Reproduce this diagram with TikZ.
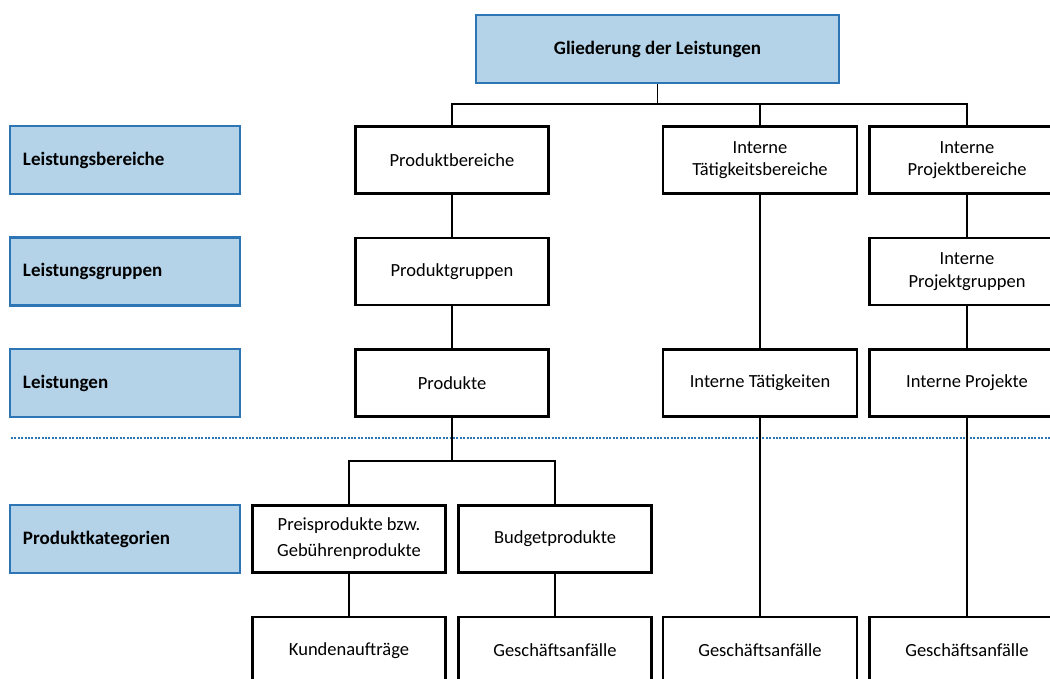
\documentclass[tikz,border=0pt]{standalone}
\usepackage{fontspec}
\setmainfont{Carlito}

\definecolor{levelfill}{RGB}{180,211,232}
\definecolor{levelline}{RGB}{46,117,182}

\begin{document}
\begin{tikzpicture}[x=1pt, y=-1pt, line width=1.8pt,
    levelbox/.style={draw=levelline, fill=levelfill, line width=2.4pt,
      minimum height=68pt, font=\bfseries\fontsize{19}{22}\selectfont},
    level/.style={levelbox, inner xsep=13pt, text width=204pt, align=left},
    unit/.style={draw, line width=2.2pt, minimum width=193pt, minimum height=67pt,
      inner sep=0pt, align=center, font=\fontsize{18.5}{22.5}\selectfont}]
   \useasboundingbox (0,0) rectangle (1050,679);
   \clip (0,0) rectangle (1050,679);

   \node[levelbox, minimum width=363pt] (top) at (657.5,49) {Gliederung der Leistungen};

   % levels on the left
   \foreach \name/\y/\txt in {bereich/160/Leistungsbereiche, gruppe/271.5/Leistungsgruppen,
       leistung/383/Leistungen, kategorie/539/Produktkategorien}
     \node[level] (lv\name) at (125,\y) {\txt};

   \draw[levelline, line width=2pt, dash pattern=on 2pt off 1.4pt] (11,438) -- (1050,438);

   % products
   \node[unit] (pbereich) at (452,160) {Produktbereiche};
   \node[unit] (pgruppe) at (452,271.5) {Produktgruppen};
   \node[unit] (produkt) at (452,383) {Produkte};
   \node[unit, font=\fontsize{18.5}{26}\selectfont] (preis) at (349,539) {Preisprodukte bzw.\\Gebührenprodukte};
   \node[unit] (budget) at (555,539) {Budgetprodukte};
   \node[unit] (kunde) at (349,650.5) {Kundenaufträge};
   \node[unit] (gfa) at (555,650.5) {Geschäftsanfälle};

   % internal activities
   \node[unit, minimum width=194pt] (tbereich) at (760,160) {Interne\\Tätigkeitsbereiche};
   \node[unit, minimum width=194pt] (taetig) at (760,383) {Interne Tätigkeiten};
   \node[unit, minimum width=194pt] (gfb) at (760,650.5) {Geschäftsanfälle};

   % internal projects
   \node[unit, minimum width=195pt] (jbereich) at (967,160) {Interne\\Projektbereiche};
   \node[unit, minimum width=195pt] (jgruppe) at (967,271.5) {Interne\\Projektgruppen};
   \node[unit, minimum width=195pt] (projekt) at (967,383) {Interne Projekte};
   \node[unit, minimum width=195pt] (gfc) at (967,650.5) {Geschäftsanfälle};

   \coordinate (bus) at (0,104);
   \coordinate (subbus) at (0,461);

   \draw (top) -- (top |- bus);
   \draw (pbereich) -- (pbereich |- bus) -- (jbereich |- bus) -- (jbereich);
   \draw (tbereich) -- (tbereich |- bus);

   \draw (pbereich) -- (pgruppe);
   \draw (pgruppe) -- (produkt);
   \draw (produkt) -- (produkt |- subbus);
   \draw (preis) -- (preis |- subbus) -- (budget |- subbus) -- (budget);
   \draw (preis) -- (kunde);
   \draw (budget) -- (gfa);

   \draw (tbereich) -- (taetig);
   \draw (taetig) -- (gfb);

   \draw (jbereich) -- (jgruppe);
   \draw (jgruppe) -- (projekt);
   \draw (projekt) -- (gfc);
\end{tikzpicture}
\end{document}
